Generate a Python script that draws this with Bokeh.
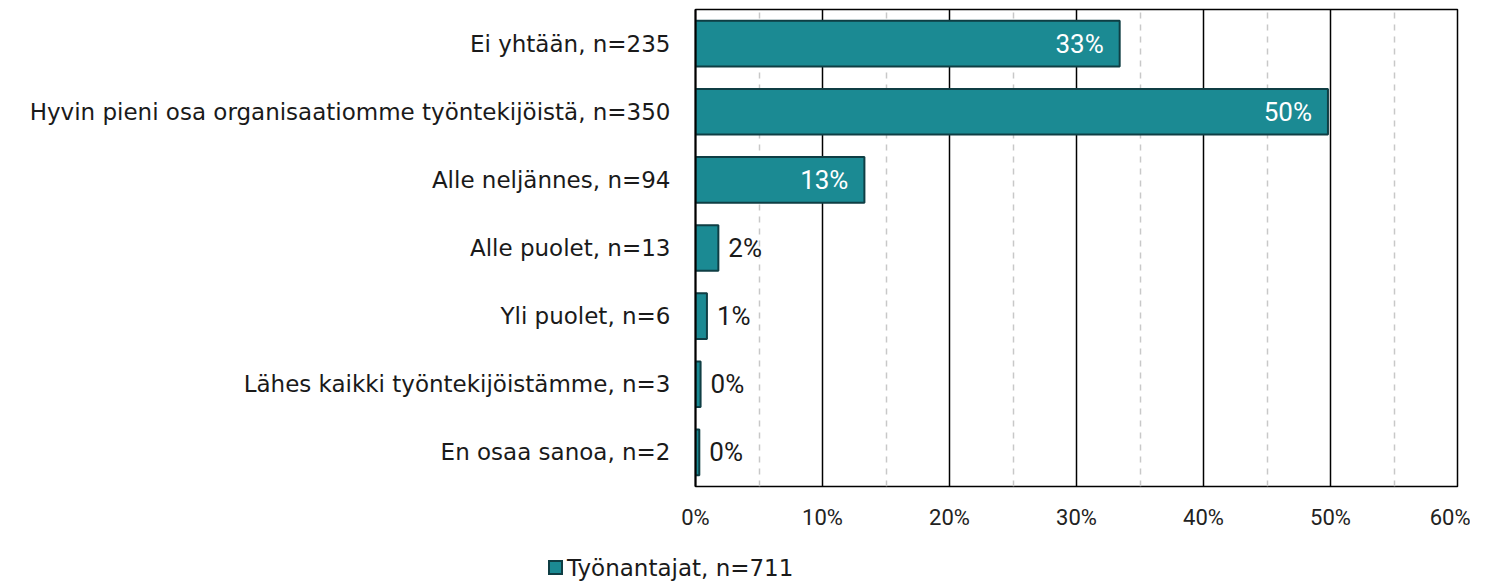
from bokeh.plotting import figure
from bokeh.layouts import column
from bokeh.models import ColumnDataSource, FactorRange, Range1d, FixedTicker, NumeralTickFormatter, Div
from bokeh.core.properties import value
from bokeh.embed import file_html
from bokeh.resources import INLINE

categories = [
    "Ei yhtään, n=235",
    "Hyvin pieni osa organisaatiomme työntekijöistä, n=350",
    "Alle neljännes, n=94",
    "Alle puolet, n=13",
    "Yli puolet, n=6",
    "Lähes kaikki työntekijöistämme, n=3",
    "En osaa sanoa, n=2",
]
values = [33.4, 49.8, 13.3, 1.8, 0.9, 0.4, 0.3]
labels = ["33%", "50%", "13%", "2%", "1%", "0%", "0%"]
series_name = "Työnantajat, n=711"
tick_values = [0, 10, 20, 30, 40, 50, 60]
minor_values = [5, 15, 25, 35, 45, 55]

fill = "#1B8A93"
edge = "#0F3E44"

p = figure(width=1470, height=532, output_backend="svg", toolbar_location=None,
           y_range=FactorRange(factors=list(reversed(categories))),
           x_range=Range1d(0, 60), min_border_left=695, min_border_right=13,
           min_border_top=9, min_border_bottom=45)

src = ColumnDataSource(dict(cat=categories, val=values, lab=labels))
r = p.hbar(y="cat", right="val", left=0, height=0.67, source=src,
           fill_color=fill, line_color=edge, line_width=2)

inside = [i for i, v in enumerate(values) if v > 5]
outside = [i for i, v in enumerate(values) if v <= 5]
src_in = ColumnDataSource(dict(cat=[categories[i] for i in inside], val=[values[i] for i in inside],
                               lab=[labels[i] for i in inside]))
src_out = ColumnDataSource(dict(cat=[categories[i] for i in outside], val=[values[i] for i in outside],
                                lab=[labels[i] for i in outside]))
p.text(x="val", y="cat", text="lab", source=src_in, text_align="right", text_baseline="middle",
       x_offset=-16, text_color="white", text_font=value("Roboto"), text_font_size="26px")
p.text(x="val", y="cat", text="lab", source=src_out, text_align="left", text_baseline="middle",
       x_offset=10, text_color="#1a1a1a", text_font=value("Roboto"), text_font_size="26px")

p.xaxis.ticker = FixedTicker(ticks=tick_values, minor_ticks=minor_values)
p.xaxis.formatter = NumeralTickFormatter(format="0")
p.xaxis.major_label_overrides = {t: f"{t}%" for t in tick_values}
p.xaxis.axis_line_color = None
p.xaxis.major_tick_line_color = None
p.xaxis.minor_tick_line_color = None
p.xaxis.major_tick_out = 0
p.xaxis.minor_tick_out = 0
p.xaxis.major_label_text_font = "Roboto"
p.xaxis.major_label_text_font_size = "22px"
p.xaxis.major_label_text_color = "#222222"
p.xaxis.major_label_standoff = 18

p.yaxis.axis_line_color = "black"
p.yaxis.axis_line_width = 2
p.yaxis.major_tick_line_color = None
p.yaxis.minor_tick_line_color = None
p.yaxis.major_tick_out = 0
p.yaxis.minor_tick_out = 0
p.yaxis.major_label_text_font = "DejaVu Sans"
p.yaxis.major_label_text_font_size = "23px"
p.yaxis.major_label_text_color = "#1a1a1a"
p.yaxis.major_label_standoff = 25

p.ygrid.grid_line_color = None
p.xgrid.grid_line_color = "black"
p.xgrid.grid_line_width = 1.5
p.xgrid.minor_grid_line_color = "#c8c8c8"
p.xgrid.minor_grid_line_dash = "6 6"
p.xgrid.minor_grid_line_width = 1.5

p.outline_line_color = "black"
p.outline_line_width = 1.5
p.outline_line_alpha = 1

legend_html = (
    f'<span style="display:inline-block;width:15px;height:15px;background:{fill};'
    f'border:2px solid {edge};vertical-align:middle;margin-right:4px;"></span>'
    f'<span style="vertical-align:middle;">{series_name}</span>'
)
legend_div = Div(text=legend_html, width=400, height=28, margin=(20, 0, 0, 548),
                 styles={"font-family": "DejaVu Sans", "font-size": "23px", "color": "#1a1a1a",
                         "line-height": "28px", "white-space": "nowrap"})

open("out.html", "w").write(file_html(column(p, legend_div, spacing=0), INLINE))
